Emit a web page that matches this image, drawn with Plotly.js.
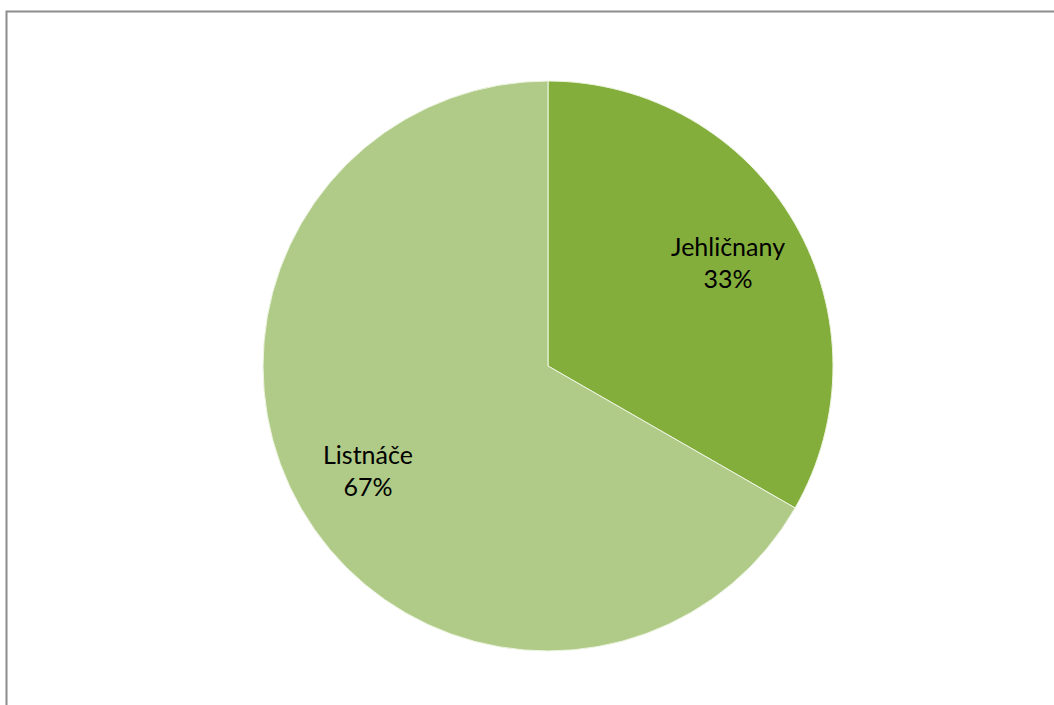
<!DOCTYPE html>
<html>
<head>
<meta charset="utf-8">
<script src="https://cdn.plot.ly/plotly-3.0.1.min.js"></script>
<style>html,body{margin:0;padding:0;background:#fff;}#chart{width:1054px;height:705px;}</style>
</head>
<body>
<div id="chart"></div>
<script>
const categories = ['Jehličnany', 'Listnáče'];
const values = [33.3, 66.7];
const sliceColors = ['#84ae3c', '#afcb87'];

const dom = {x: [263/1054, 833/1054], y: [1 - 651/705, 1 - 81/705]};

// full pie body
const base = {
  type: 'pie',
  labels: categories,
  values: values,
  sort: false,
  direction: 'clockwise',
  rotation: 0,
  marker: {colors: sliceColors, line: {color: '#eef5e2', width: 1}},
  textinfo: 'none',
  hoverinfo: 'skip',
  domain: dom,
  showlegend: false
};

// transparent ring that carries the labels further out
const labelsRing = {
  type: 'pie',
  labels: categories,
  values: values,
  sort: false,
  direction: 'clockwise',
  rotation: 0,
  hole: 0.46,
  marker: {colors: ['rgba(0,0,0,0)', 'rgba(0,0,0,0)'], line: {width: 0}},
  texttemplate: '%{label}<br>%{percent:.0%}',
  textposition: 'inside',
  insidetextorientation: 'horizontal',
  textfont: {family: 'Lato, "Open Sans", sans-serif', size: 25, color: '#000'},
  hoverinfo: 'label+percent',
  domain: dom,
  showlegend: false
};

const layout = {
  width: 1054, height: 705,
  margin: {l: 0, r: 0, t: 0, b: 0},
  paper_bgcolor: '#fff',
  showlegend: false,
  shapes: [{
    type: 'rect', xref: 'paper', yref: 'paper',
    x0: 6.5/1054, x1: 1.2, y0: -0.2, y1: 1 - 11.5/705,
    line: {color: '#8c8c8c', width: 2}, fillcolor: 'rgba(0,0,0,0)', layer: 'below'
  }]
};

Plotly.newPlot('chart', [base, labelsRing], layout, {displayModeBar: false, staticPlot: true});
</script>
</body>
</html>
